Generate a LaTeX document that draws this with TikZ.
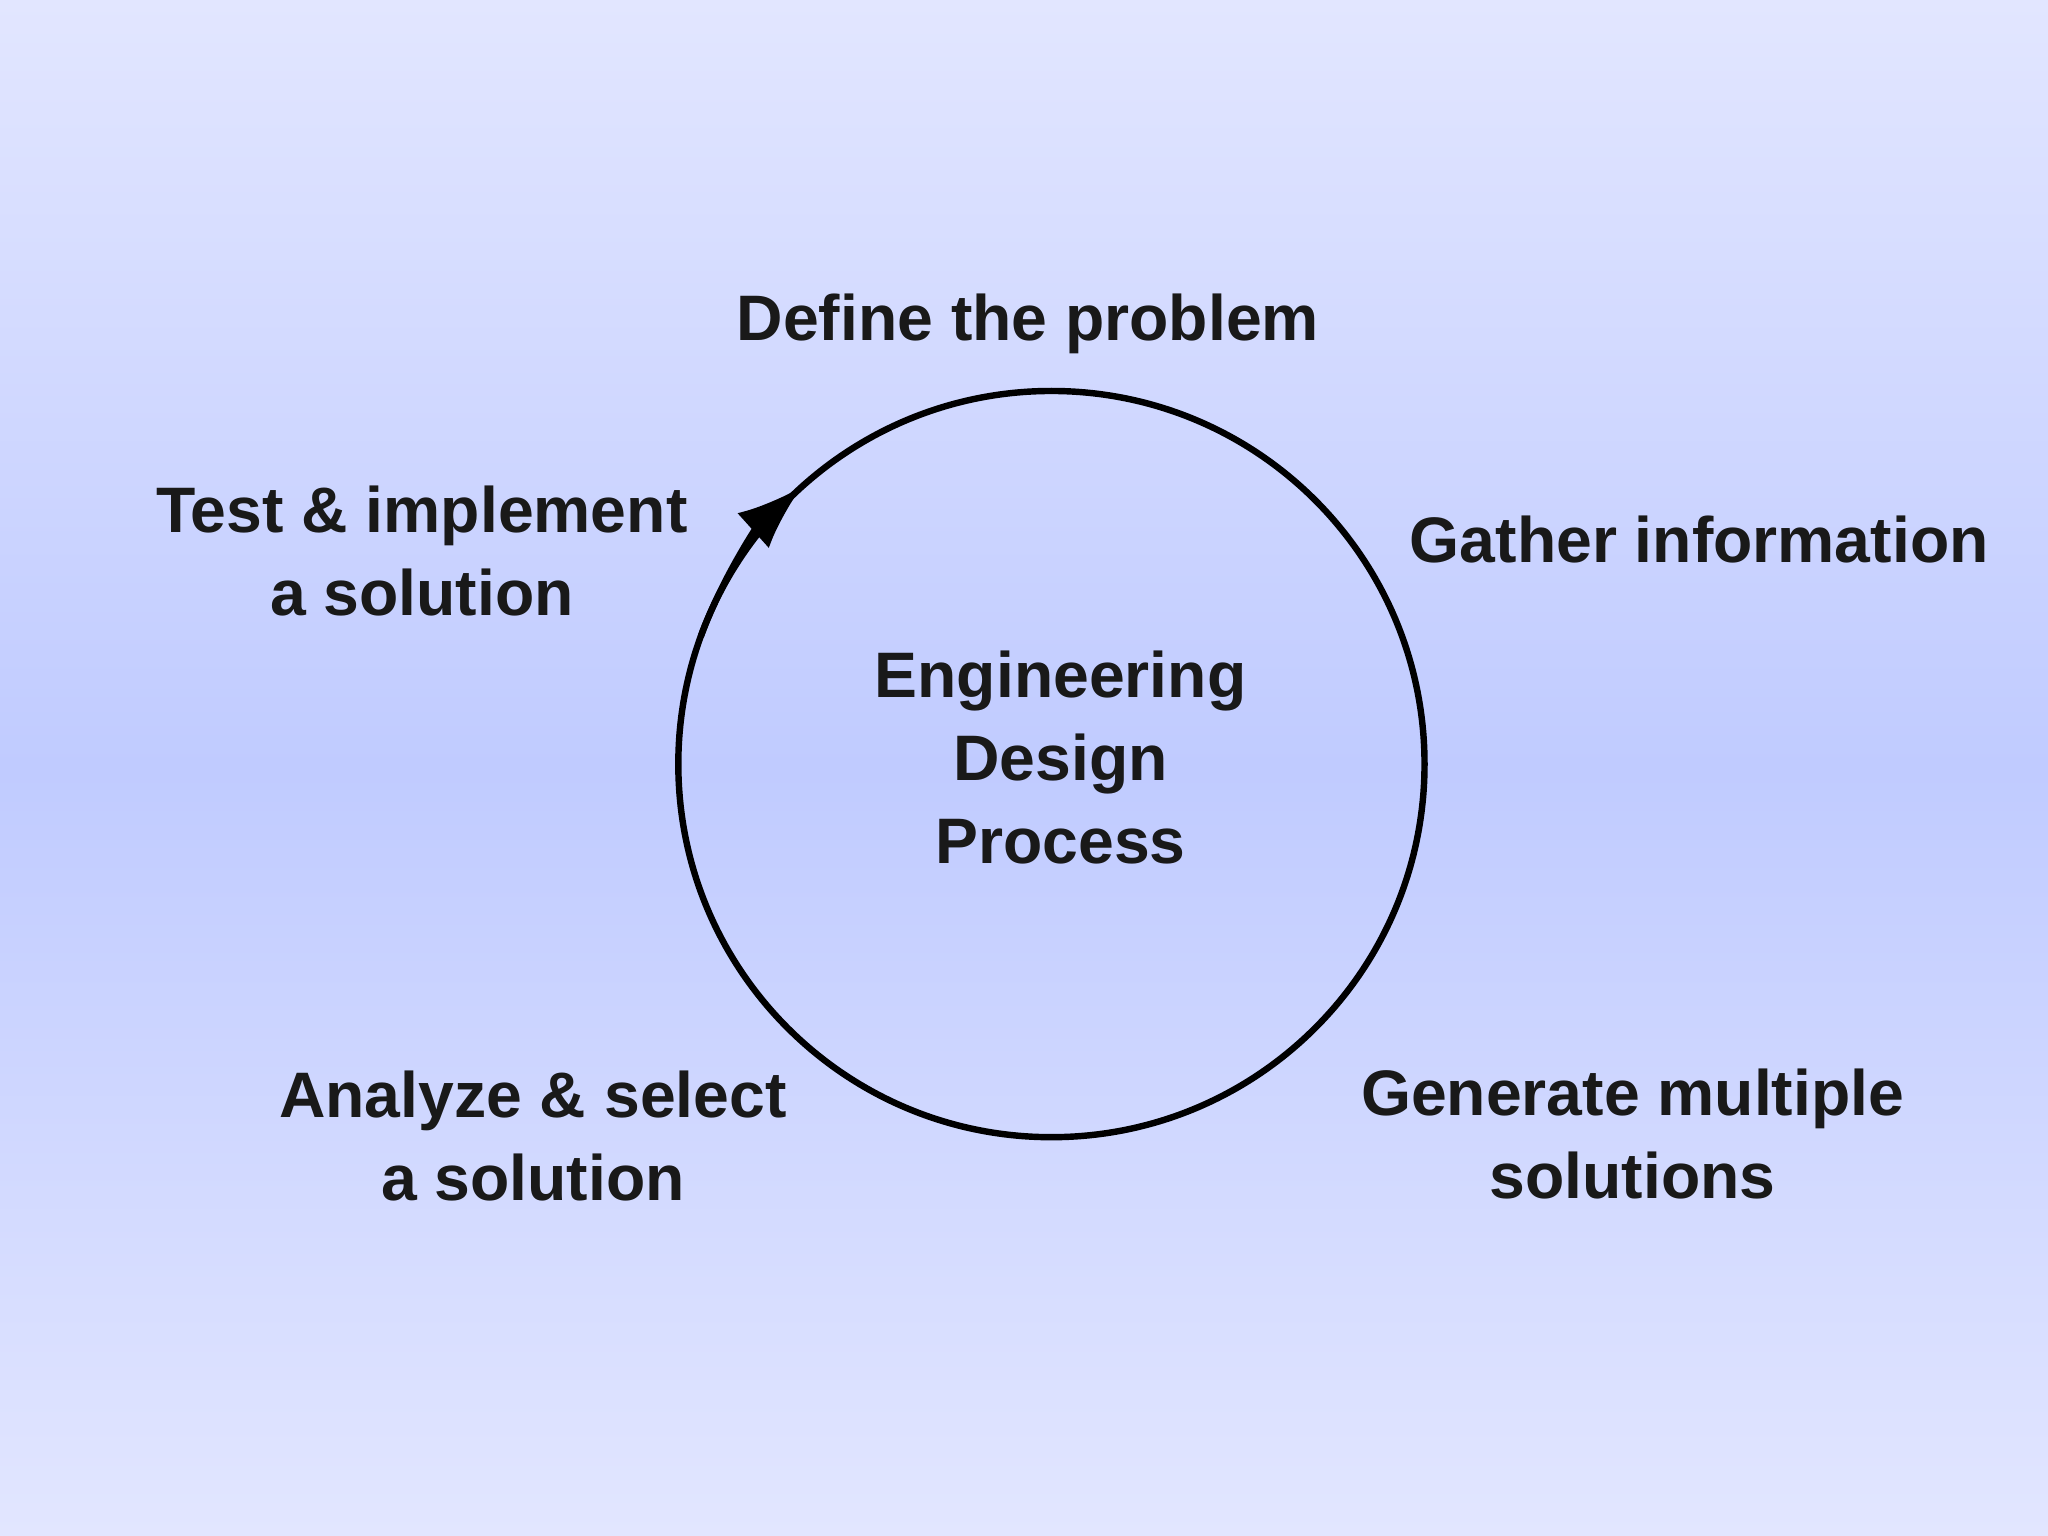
\documentclass[tikz,border=0pt]{standalone}
\usepackage{fontspec}
\setmainfont{Liberation Sans}
\usetikzlibrary{arrows.meta}
\definecolor{bgedge}{RGB}{226,230,255}
\definecolor{bgmid}{RGB}{192,203,255}
\tikzset{steplabel/.style={font=\fontsize{14}{18}\selectfont\bfseries,align=center,text=black!90}}

\begin{document}
\begin{tikzpicture}[x=0.01cm,y=-0.01cm]
\shade[top color=bgedge,bottom color=bgedge,middle color=bgmid] (0,0) rectangle (1568,1176);
\useasboundingbox (0,0) rectangle (1568,1176);
\coordinate (c) at (805,585);
\draw[line width=1.4pt] (c) circle[radius=2.855cm];
\draw[line width=1.4pt,-{Latex[length=0.5cm,width=0.36cm]}] ([shift={(160:2.855cm)}]c) arc[start angle=160,end angle=132,radius=2.855cm];
\node[steplabel] (center) at (812,580) {Engineering\\Design\\Process};
\node[steplabel] (define) at (787,248) {Define the problem};
\node[steplabel] (gather) at (1301,413) {Gather information};
\node[steplabel] (generate) at (1250,868) {Generate multiple\\solutions};
\node[steplabel] (analyze) at (408,870) {Analyze \& select\\a solution};
\node[steplabel] (test) at (323,422) {Test \& implement\\a solution};
\end{tikzpicture}
\end{document}
